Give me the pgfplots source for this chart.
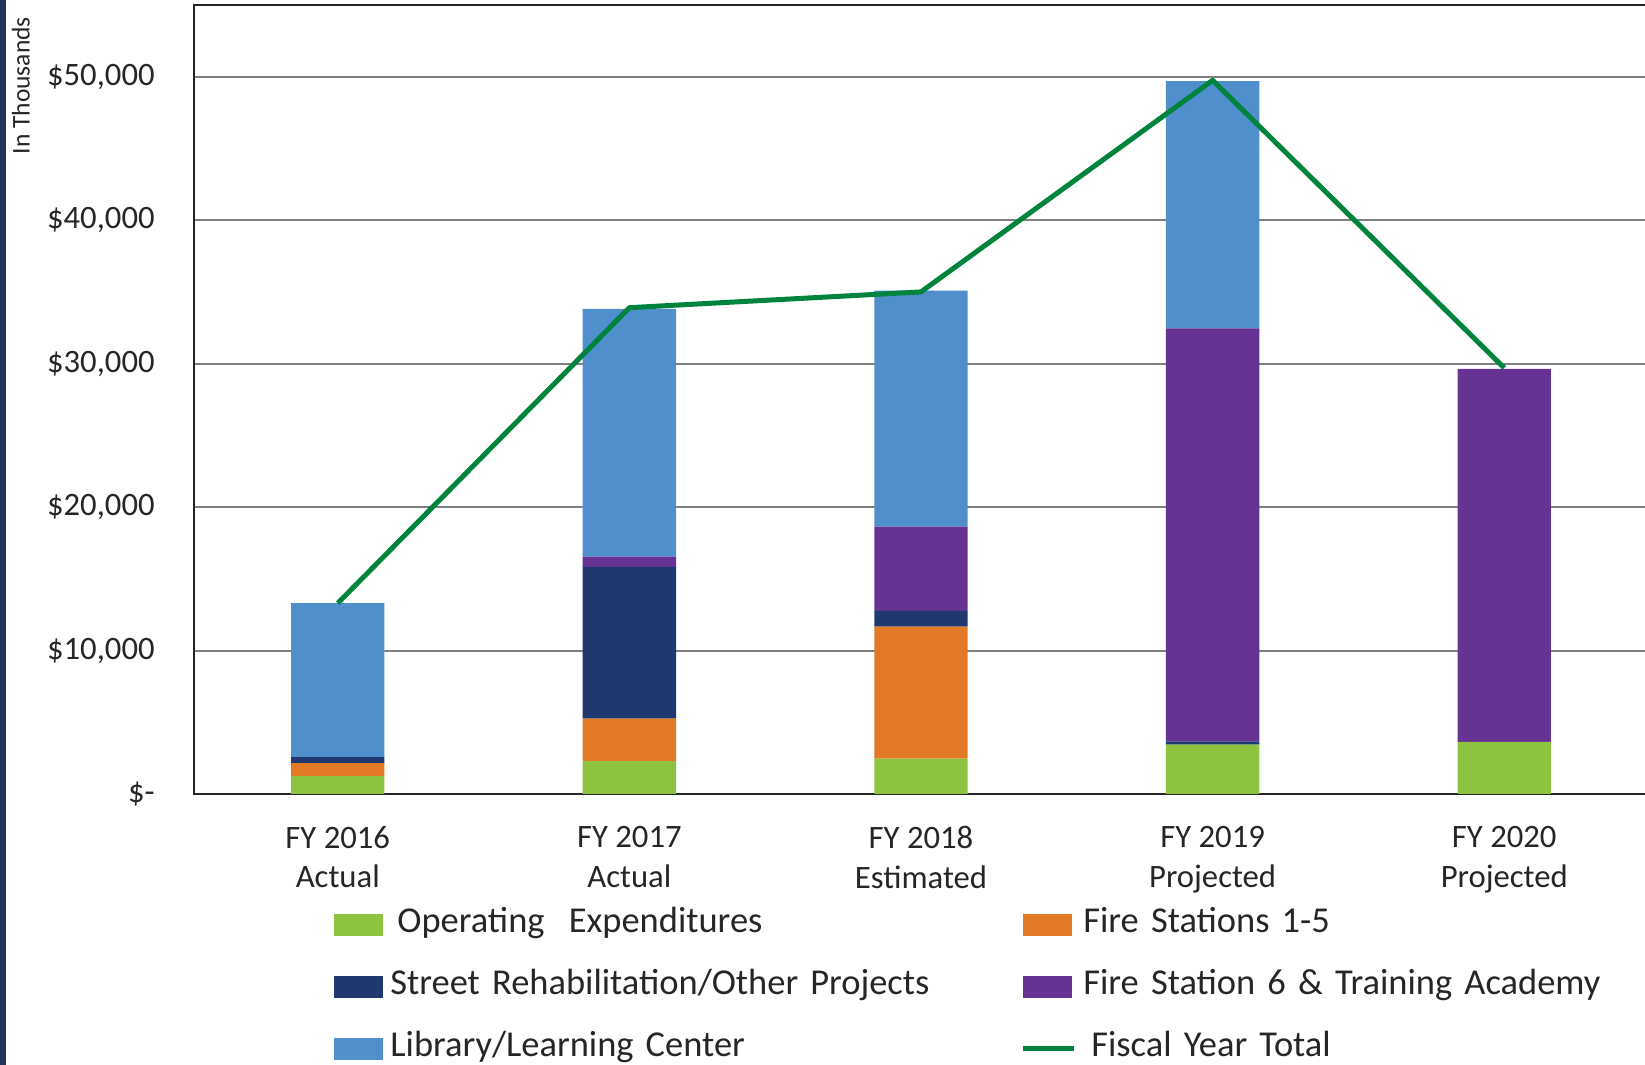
\documentclass[border=0pt]{standalone}
\usepackage{pgfplots}
\usepackage{pgfplotstable}
\pgfplotsset{compat=1.18}
\usepackage{fontspec}
\setmainfont{Carlito}
\definecolor{cGreen}{RGB}{141,195,63}
\definecolor{cOrange}{RGB}{226,121,37}
\definecolor{cNavy}{RGB}{31,57,112}
\definecolor{cPurple}{RGB}{102,51,148}
\definecolor{cBlue}{RGB}{78,143,204}
\definecolor{cLine}{RGB}{0,132,61}
\definecolor{cText}{RGB}{38,38,38}
\definecolor{cGrid}{RGB}{128,128,128}
\definecolor{cEdge}{RGB}{36,50,90}

\pgfplotstableread{
x green orange navy purple blue total
0 1250 900 420 0 10730 13300
1 2300 2950 10590 700 17280 33900
2 2460 9200 1110 5860 16460 35000
3 3440 0 230 28780 17250 49750
4 3640 0 0 26000 0 29700
}\data

\pgfplotsset{
  myBarLegend/.style={legend image code/.code={\fill[##1] (0bp,-5.5bp) rectangle (24.5bp,5.5bp);}},
  myLineLegend/.style={legend image code/.code={\draw[##1] (0bp,0bp) -- (25.5bp,0bp);}},
}

\begin{document}
\begin{tikzpicture}
\useasboundingbox (0,0) rectangle (822.5bp,532.5bp);
\fill[cEdge] (0,0) rectangle (3bp,532.5bp);
\begin{axis}[
  at={(97bp,135.5bp)}, anchor=south west,
  scale only axis, width=727bp, height=394.5bp,
  ybar stacked, bar width=46.7bp,
  xmin=-0.493, xmax=4.493, ymin=0, ymax=55000,
  xtick={0,1,2,3,4},
  xticklabels={{FY 2016\\Actual},{FY 2017\\Actual},{FY 2018\\Estimated},{FY 2019\\Projected},{FY 2020\\Projected}},
  ytick={0,10000,20000,30000,40000,50000},
  yticklabels={{\$-},{\$10,000},{\$20,000},{\$30,000},{\$40,000},{\$50,000}},
  major tick length=0pt,
  ymajorgrids, grid style={cGrid, line width=1bp},
  axis line style={cText, line width=1bp},
  tick label style={font=\fontsize{16.4}{20}\selectfont, text=cText},
  yticklabel style={inner sep=0pt, anchor=east, xshift=-19.5bp},
  xticklabel style={align=center, inner sep=0pt, anchor=north, yshift=-15.8bp},
  legend columns=2, legend cell align=left,
  legend style={at={(0.09629,-0.14480)}, anchor=north west, draw=none, fill=none,
    inner sep=0pt, column sep=0pt, row sep=15bp,
    font=\fontsize{18.3}{21}\selectfont, text=cText,
    nodes={inner xsep=3.5bp, inner ysep=0pt, text height=12bp, text depth=4bp, text width=311.5bp}},
]
\addplot[fill=cGreen, draw=none, myBarLegend] table[x=x,y=green]{\data};
\addlegendentry{\hspace{3.5bp}Operating~ Expenditures}
\addplot[fill=cOrange, draw=none, myBarLegend] table[x=x,y=orange]{\data};
\addlegendentry{Fire Stations 1-5}
\addplot[fill=cNavy, draw=none, myBarLegend] table[x=x,y=navy]{\data};
\addlegendentry{Street Rehabilitation/Other Projects}
\addplot[fill=cPurple, draw=none, myBarLegend] table[x=x,y=purple]{\data};
\addlegendentry{Fire Station 6 \& Training Academy}
\addplot[fill=cBlue, draw=none, myBarLegend] table[x=x,y=blue]{\data};
\addlegendentry{Library/Learning Center}
\addlegendimage{cLine, line width=2.5bp, myLineLegend}
\addlegendentry{\hspace{4bp}Fiscal Year Total}
\end{axis}
\begin{axis}[
  at={(97bp,135.5bp)}, anchor=south west,
  scale only axis, width=727bp, height=394.5bp,
  xmin=-0.493, xmax=4.493, ymin=0, ymax=55000,
  hide axis,
]
\addplot[cLine, line width=2.5bp, no markers, line join=round] table[x=x,y=total]{\data};
\end{axis}
\node[rotate=90, anchor=north east, font=\fontsize{12.8}{15}\selectfont, text=cText, inner sep=0pt] at (5.75bp,524.2bp) {In Thousands};
\end{tikzpicture}
\end{document}
